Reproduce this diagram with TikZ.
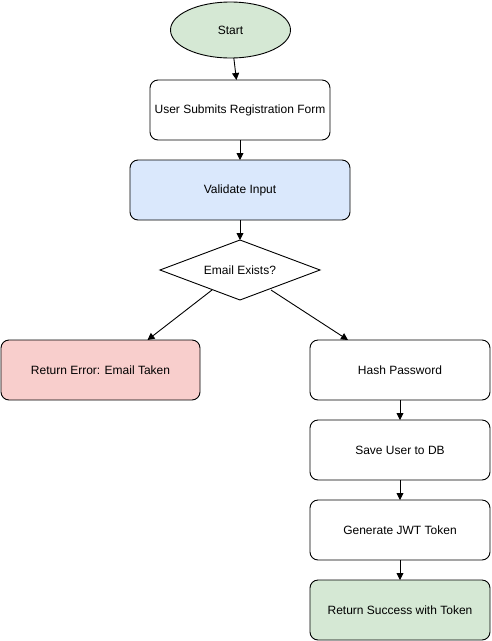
\documentclass[tikz,border=0pt]{standalone}
\usepackage{fontspec}
\setmainfont{Liberation Sans}
\usetikzlibrary{arrows.meta,shapes.geometric}
\definecolor{gfill}{HTML}{D5E8D4}
\definecolor{bfill}{HTML}{DAE8FC}
\definecolor{rfill}{HTML}{F8CECC}
\begin{document}
\begin{tikzpicture}[x=1pt,y=-1pt,
  every node/.style={font=\fontsize{12}{14}\selectfont, inner sep=0pt, outer sep=0pt},
  box/.style={draw=black, line width=0.9pt, rounded corners=8pt, minimum width=180pt, minimum height=60pt, fill=white},
  arr/.style={draw=black, line width=0.9pt, -{Triangle[length=7pt,width=7pt]}}]
\useasboundingbox (0,0) rectangle (491,641);
\node[draw=black, line width=0.9pt, fill=gfill, ellipse, minimum width=120pt, minimum height=56pt] (start) at (230.5,30) {Start};
\node[box] (user) at (240,110) {User Submits Registration Form};
\node[box, fill=bfill, minimum width=220pt] (valid) at (240,190) {Validate Input};
\node[draw=black, line width=0.9pt, fill=white, diamond, aspect=2.67, minimum width=160pt, minimum height=60pt, inner sep=0pt] (email) at (240,270) {};
\node at (240,270) {Email Exists?};
\node[box, fill=rfill, minimum width=199pt] (err) at (100.5,370) {Return Error: Email Taken};
\node[box] (hash) at (400,370) {Hash Password};
\node[box] (save) at (400,450) {Save User to DB};
\node[box] (jwt) at (400,530) {Generate JWT Token};
\node[box, fill=gfill] (succ) at (400,610) {Return Success with Token};
\draw[arr] (start) -- (user);
\draw[arr] (user) -- (valid);
\draw[arr] (valid) -- (email);
\coordinate (eL) at (212,290);
\coordinate (eR) at (271,290);
\coordinate (tL) at ([xshift=47pt]err.north);
\coordinate (tR) at ([xshift=-52pt]hash.north);
\draw[arr] (eL) -- (tL);
\draw[arr] (eR) -- (tR);
\draw[arr] (hash) -- (save);
\draw[arr] (save) -- (jwt);
\draw[arr] (jwt) -- (succ);
\end{tikzpicture}
\end{document}
